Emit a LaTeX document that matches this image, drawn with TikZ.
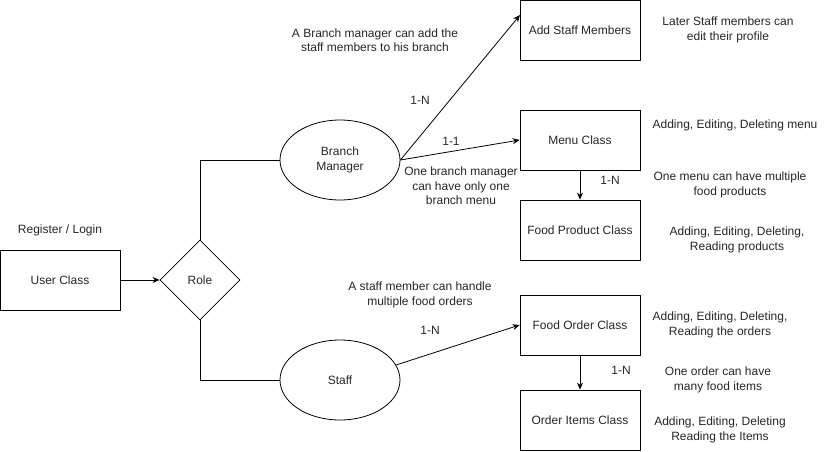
\documentclass[tikz,border=0pt]{standalone}
\usepackage{fontspec}
\setmainfont{Liberation Sans}
\usetikzlibrary{shapes.geometric,arrows.meta}
\begin{document}
\begin{tikzpicture}[x=1pt,y=-1pt,
  every node/.style={font=\fontsize{12}{14.5}\selectfont, text=black!85},
  cls/.style={draw, line width=0.8pt, minimum width=120pt, minimum height=60pt, inner sep=0pt},
  ell/.style={draw, ellipse, line width=0.8pt, minimum width=120pt, minimum height=80pt, inner sep=0pt, align=center},
  note/.style={align=center, inner sep=0pt},
  conn/.style={line width=0.8pt, -{Stealth[length=7pt,width=6pt]}},
  plain/.style={line width=0.8pt}]
\useasboundingbox (0,0) rectangle (831,451);
\node[cls] (user) at (60,280) {User Class};
\node[draw, diamond, aspect=1, line width=0.8pt, minimum width=80pt, minimum height=80pt, inner sep=0pt] (role) at (200,280) {Role};
\node[ell] (bm) at (340,160) {Branch\\Manager};
\node[ell] (staff) at (340,380) {Staff};
\node[cls] (add) at (580,30) {Add Staff Members};
\node[cls] (menu) at (580,140) {Menu Class};
\node[cls] (food) at (580,230) {Food Product Class};
\node[cls] (order) at (580,325) {Food Order Class};
\node[cls] (items) at (580,420) {Order Items Class};

\coordinate (bmw) at (bm.west);
\coordinate (stw) at (staff.west);
\coordinate (addt) at (520,15);

\draw[conn] (user.east) -- (role.west);
\draw[plain] (role.north) |- (bm.west);
\draw[plain] (role.south) |- (staff.west);
\draw[conn] (bm.east) -- (addt);
\draw[conn] (bm.east) -- (menu.west);
\draw[conn] (menu.south) -- (food.north);
\draw[conn] (staff.15) -- (order.west);
\draw[conn] (order.south) -- (items.north);

\node[note] (t1) at (60,230) {Register / Login};
\node[note] (t2) at (375,40) {A Branch manager can add the\\staff members to his branch};
\node[note] (t3) at (420,100) {1-N};
\node[note] (t4) at (451,141) {1-1};
\node[note] (t5) at (461,186) {One branch manager\\can have only one\\branch menu};
\node[note] (t6) at (610,180) {1-N};
\node[note] (t7) at (420,295) {A staff member can handle\\multiple food orders};
\node[note] (t8) at (430,330) {1-N};
\node[note] (t9) at (621,370) {1-N};
\node[note] (r1) at (728,30) {Later Staff members can\\edit their profile};
\node[note] (r2) at (735,125) {Adding, Editing, Deleting menu};
\node[note] (r3) at (730,185) {One menu can have multiple\\food products};
\node[note] (r4) at (737,240) {Adding, Editing, Deleting,\\Reading products};
\node[note] (r5) at (720,325) {Adding, Editing, Deleting,\\Reading the orders};
\node[note] (r6) at (718,380) {One order can have\\many food items};
\node[note] (r7) at (720,430) {Adding, Editing, Deleting\\Reading the Items};
\end{tikzpicture}
\end{document}
